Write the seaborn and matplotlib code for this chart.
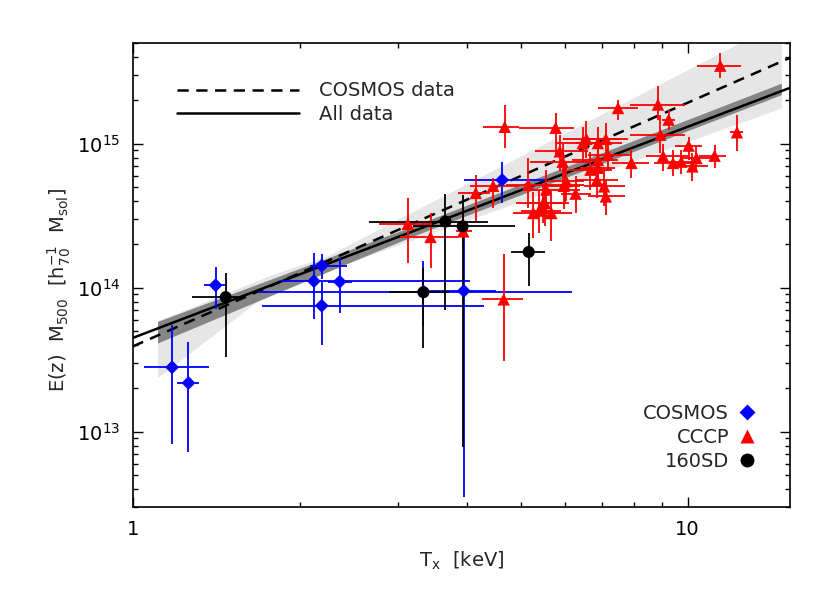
import numpy as np
import pandas as pd
import matplotlib
matplotlib.use("Agg")
import matplotlib.pyplot as plt
from matplotlib.lines import Line2D
from matplotlib.ticker import NullFormatter, LogLocator, FuncFormatter
import seaborn as sns

# COSMOS groups (blue diamonds): T, M and error bounds
cosmos_T = [1.177, 1.26, 1.41, 2.12, 2.19, 2.36, 2.19, 3.34, 3.95, 4.63]
cosmos_M = [2.8e13, 2.18e13, 1.04e14, 1.11e14, 1.42e14, 1.10e14, 7.5e13, 9.4e13, 9.5e13, 5.6e14]
cosmos_Tlo = [1.047, 1.20, 1.343, 1.85, 2.09, 2.25, 1.71, 1.69, 3.34, 3.95]
cosmos_Thi = [1.371, 1.316, 1.478, 4.06, 2.43, 2.48, 4.29, 6.20, 4.52, 5.56]
cosmos_Mlo = [8.2e12, 7.2e12, 7.1e13, 6.1e13, 1.15e14, 6.7e13, 4.0e13, 5.4e13, 3.5e12, 3.9e14]
cosmos_Mhi = [5.5e13, 4.2e13, 1.39e14, 1.74e14, 1.7e14, 1.62e14, 1.1e14, 1.53e14, 2.4e14, 7.5e14]

# 160SD clusters (black circles)
sd_T = [1.47, 3.34, 3.66, 3.93, 5.17]
sd_M = [8.6e13, 9.3e13, 2.88e14, 2.67e14, 1.77e14]
sd_Tlo = [1.28, 2.90, 2.67, 3.20, 4.80]
sd_Thi = [1.58, 3.72, 4.37, 4.88, 5.54]
sd_Mlo = [3.3e13, 3.8e13, 7.0e13, 7.8e12, 1.03e14]
sd_Mhi = [1.27e14, 1.37e14, 4.5e14, 4.4e14, 2.4e14]

# CCCP clusters (red triangles)
cccp_T = [3.13, 3.44, 3.94, 4.15, 4.46, 4.68, 4.66, 5.16, 5.56, 5.78,
          5.88, 5.95, 6.04, 5.98, 6.28, 6.57, 6.47, 6.89, 7.12, 7.49,
          7.18, 6.89, 6.68, 6.89, 6.86, 7.07, 7.12, 7.92, 5.27, 5.40,
          5.49, 5.68, 5.53, 6.00, 11.45, 8.84, 9.24, 8.93, 12.27, 9.03,
          10.04, 9.41, 9.74, 10.37, 10.2, 11.18]
cccp_M = [2.78e14, 2.25e14, 2.46e14, 4.55e14, 5.1e14, 1.31e15, 8.3e13, 5.2e14, 4.8e14, 1.29e15,
          8.85e14, 7.5e14, 5.5e14, 5.1e14, 4.5e14, 1.08e15, 1.01e15, 1.01e15, 1.08e15, 1.77e15,
          8.4e14, 7.7e14, 6.6e14, 6.8e14, 5.6e14, 5.05e14, 4.3e14, 7.35e14, 3.3e14, 3.43e14,
          3.87e14, 3.3e14, 3.87e14, 5.2e14, 3.48e15, 1.87e15, 1.47e15, 1.155e15, 1.2e15, 8.2e14,
          9.7e14, 7.35e14, 7.5e14, 7.95e14, 6.95e14, 8.25e14]
cccp_Tlo = [2.78, 3.03, 3.82, 3.85, 4.05, 4.27, 4.26, 4.70, 5.05, 4.97,
            5.30, 5.20, 5.60, 5.50, 5.90, 5.95, 5.80, 6.30, 6.50, 6.88,
            6.60, 6.20, 6.10, 6.40, 6.30, 6.50, 6.60, 7.30, 4.85, 5.00,
            5.10, 5.20, 4.90, 5.50, 10.4, 7.87, 9.00, 7.87, 11.9, 8.40,
            9.50, 8.70, 9.10, 9.70, 9.60, 10.5]
cccp_Thi = [3.43, 3.85, 4.08, 4.40, 4.97, 4.97, 5.05, 5.56, 6.40, 6.25,
            6.60, 6.70, 6.50, 6.40, 6.70, 7.55, 7.10, 7.60, 7.80, 8.15,
            7.90, 7.50, 7.30, 7.40, 7.50, 7.70, 7.70, 8.50, 5.80, 5.90,
            6.00, 6.20, 6.10, 6.50, 12.5, 9.89, 9.50, 9.89, 12.6, 10.0,
            10.6, 10.2, 10.4, 11.0, 10.9, 11.7]
cccp_Mlo = [1.49e14, 1.37e14, 1.9e14, 2.9e14, 3.6e14, 9.4e14, 3.1e13, 3.6e14, 3.0e14, 8.4e14,
            6.5e14, 5.5e14, 4.0e14, 3.5e14, 3.3e14, 7.95e14, 7.5e14, 7.5e14, 8.0e14, 1.47e15,
            6.5e14, 5.8e14, 4.8e14, 5.0e14, 4.2e14, 3.7e14, 3.2e14, 5.8e14, 2.2e14, 2.4e14,
            2.8e14, 2.1e14, 2.7e14, 3.8e14, 2.86e15, 1.47e15, 1.25e15, 8.6e14, 8.85e14, 6.5e14,
            7.75e14, 6.0e14, 6.2e14, 6.6e14, 5.5e14, 6.8e14]
cccp_Mhi = [4.2e14, 3.3e14, 3.6e14, 6.1e14, 5.8e14, 1.86e15, 1.7e14, 7.95e14, 6.6e14, 1.63e15,
            1.15e15, 1.0e15, 7.5e14, 6.8e14, 6.0e14, 1.43e15, 1.3e15, 1.3e15, 1.4e15, 2.0e15,
            1.1e15, 1.0e15, 8.8e14, 9.0e14, 7.4e14, 6.6e14, 5.6e14, 9.2e14, 4.6e14, 4.8e14,
            5.3e14, 4.7e14, 5.4e14, 7.0e14, 4.26e15, 2.5e15, 1.72e15, 1.59e15, 1.59e15, 1.0e15,
            1.12e15, 9.0e14, 9.0e14, 9.6e14, 8.6e14, 9.8e14]

# power-law fits: M = norm * T^slope
all_norm, all_slope = 4.48e13, 1.466
cosmos_norm, cosmos_slope = 3.91e13, 1.692

# confidence regions (edges)
cosmos_band_T = [1.108, 1.778, 2.239, 7.86, 14.75]
cosmos_band_lo = [2.37e13, 9.55e13, 1.32e14, 7.41e14, 1.77e15]
cosmos_band_hi = [5.89e13, 1.23e14, 1.66e14, 2.02e15, 7.08e15]
all_band_T = [1.108, 3.16, 14.75]
all_band_lo = [4.13e13, 2.24e14, 2.19e15]
all_band_hi = [5.83e13, 2.63e14, 2.63e15]

sns.set_theme(style="ticks")
plt.rcParams['font.family'] = ['DejaVu Sans']
plt.rcParams.update({
    'xtick.direction': 'in', 'ytick.direction': 'in',
    'xtick.top': True, 'ytick.right': True,
    'xtick.major.size': 7, 'ytick.major.size': 7,
    'xtick.minor.size': 3.5, 'ytick.minor.size': 3.5,
    'xtick.major.width': 1.0, 'ytick.major.width': 1.0,
    'xtick.minor.width': 1.0, 'ytick.minor.width': 1.0,
    'axes.linewidth': 1.2, 'axes.edgecolor': 'black',
    'xtick.color': 'black', 'ytick.color': 'black',
})

fig = plt.figure(figsize=(8.3, 5.93), dpi=100)
ax = fig.add_axes([0.160, 0.145, 0.792, 0.7825])
ax.set_xscale('log')
ax.set_yscale('log')
ax.set_xlim(1, 15.3)
ax.set_ylim(3.0e12, 5.0e15)

ax.fill_between(cosmos_band_T, cosmos_band_lo, cosmos_band_hi, color='#e6e6e6', lw=0, zorder=1)
ax.fill_between(all_band_T, all_band_lo, all_band_hi, color='#858585', lw=0, zorder=2)

T_grid = np.geomspace(1, 15.3, 60)
fits = pd.DataFrame({
    'T': np.concatenate([T_grid, T_grid]),
    'M': np.concatenate([cosmos_norm * T_grid ** cosmos_slope, all_norm * T_grid ** all_slope]),
    'fit': ['COSMOS data'] * len(T_grid) + ['All data'] * len(T_grid),
})
sub = fits[fits.fit == 'COSMOS data']
ax.plot(sub['T'], sub['M'], color='black', lw=1.8, dashes=(4.5, 3), zorder=3, label='COSMOS data')
sub = fits[fits.fit == 'All data']
ax.plot(sub['T'], sub['M'], color='black', lw=1.8, zorder=3, label='All data')

samples = [
    ('COSMOS', cosmos_T, cosmos_M, cosmos_Tlo, cosmos_Thi, cosmos_Mlo, cosmos_Mhi, 'blue'),
    ('CCCP', cccp_T, cccp_M, cccp_Tlo, cccp_Thi, cccp_Mlo, cccp_Mhi, 'red'),
    ('160SD', sd_T, sd_M, sd_Tlo, sd_Thi, sd_Mlo, sd_Mhi, 'black'),
]
rows = []
for name, T, M, Tlo, Thi, Mlo, Mhi, col in samples:
    T, M = np.array(T), np.array(M)
    ax.errorbar(T, M, xerr=[T - np.array(Tlo), np.array(Thi) - T],
                yerr=[M - np.array(Mlo), np.array(Mhi) - M],
                fmt='none', ecolor=col, elinewidth=1.3, capsize=0, zorder=4)
    rows.append(pd.DataFrame({'T': T, 'M': M, 'sample': name}))
df = pd.concat(rows, ignore_index=True)

palette = {'COSMOS': 'blue', 'CCCP': 'red', '160SD': 'black'}
markers = {'COSMOS': 'D', 'CCCP': '^', '160SD': 'o'}
sizes = {'COSMOS': 50, 'CCCP': 80, '160SD': 75}
for name in ['CCCP', 'COSMOS', '160SD']:
    sns.scatterplot(data=df[df['sample'] == name], x='T', y='M', color=palette[name],
                    marker=markers[name], s=sizes[name],
                    edgecolor='none', linewidth=0, legend=False, ax=ax, zorder=5)

ax.xaxis.set_major_formatter(FuncFormatter(lambda v, _: f'{v:g}'))
ax.xaxis.set_minor_formatter(NullFormatter())
ax.yaxis.set_major_locator(LogLocator(base=10, numticks=10))
ax.yaxis.set_minor_locator(LogLocator(base=10, subs=np.arange(2, 10), numticks=20))
ax.yaxis.set_minor_formatter(NullFormatter())
ax.tick_params(labelsize=14, pad=9)

ax.set_xlabel(r'T$_{\rm x}$  [keV]', fontsize=14, labelpad=8)
ax.set_ylabel(r'E(z)  M$_{500}$  [h$_{70}^{-1}$  M$_{\rm sol}$]', fontsize=14)
ax.yaxis.set_label_coords(-0.091, 0.468)

leg1 = ax.legend(loc='upper left', bbox_to_anchor=(0.04, 0.955), frameon=False,
                 fontsize=14, handlelength=6.3, handletextpad=1.0, labelspacing=0.25)
ax.add_artist(leg1)

handles = [Line2D([], [], ls='none', marker='D', color='blue', ms=8, mec='none'),
           Line2D([], [], ls='none', marker='^', color='red', ms=10, mec='none'),
           Line2D([], [], ls='none', marker='o', color='black', ms=10, mec='none')]
ax.legend(handles, ['COSMOS', 'CCCP', '160SD'], loc='lower right',
          bbox_to_anchor=(0.975, 0.04), frameon=False, fontsize=14,
          markerfirst=False, handlelength=1.0, handletextpad=0.4, labelspacing=0.25)

fig.savefig('out.png', dpi=100)
